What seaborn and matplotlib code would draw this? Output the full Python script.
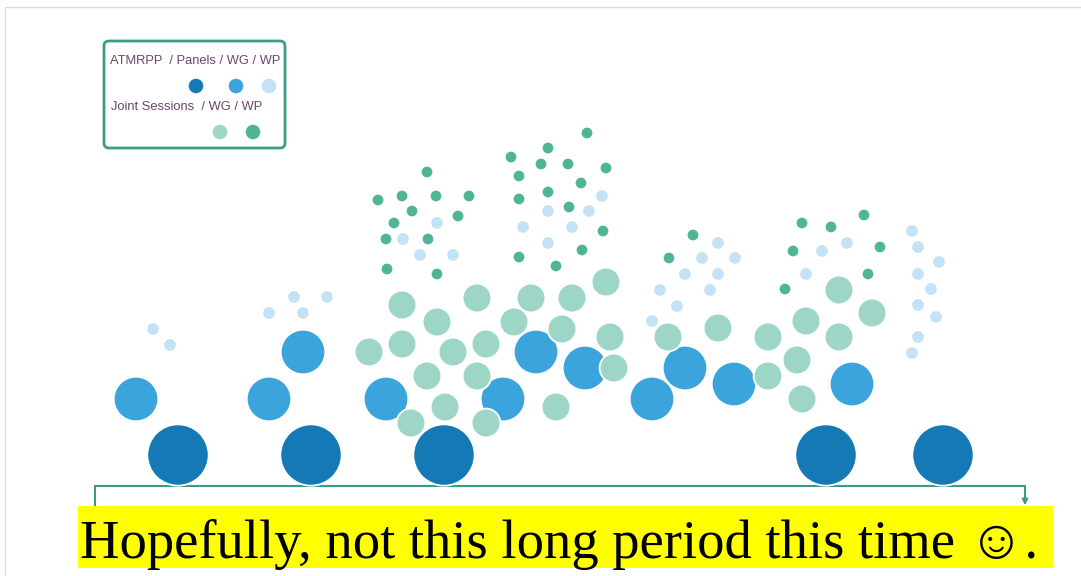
import numpy as np
import pandas as pd
import matplotlib
matplotlib.use('Agg')
import matplotlib.pyplot as plt
from matplotlib.patches import FancyBboxPatch, Rectangle
import seaborn as sns

# circle centres (pixel units, y downwards)
atm_x = [178, 311, 444, 826, 943]
atm_y = [455, 455, 455, 455, 455]

panel_x = [136, 269, 303, 386, 503, 536, 585, 652, 685, 734, 852]
panel_y = [399, 399, 352, 399, 399, 352, 368, 399, 368, 384, 384]

wp_x = [153, 170, 269, 294, 303, 327,
        437, 403, 420, 453,
        602, 548, 589, 523, 572, 548,
        718, 702, 735, 685, 718, 660, 710, 677, 652,
        822, 847, 806,
        912, 918, 939, 918, 931, 918, 936, 918, 912]
wp_y = [329, 345, 313, 297, 313, 297,
        223, 239, 255, 255,
        196, 211, 211, 227, 227, 243,
        243, 258, 258, 274, 274, 290, 290, 306, 321,
        251, 243, 274,
        231, 247, 262, 274, 289, 305, 317, 337, 353]

jwg_x = [402, 477, 437, 369, 402, 453, 486, 427, 477, 445, 411, 486,
         531, 572, 606, 514, 562, 610, 614, 556,
         668, 718, 768, 768, 806, 797, 802, 839, 839, 872]
jwg_y = [305, 298, 322, 352, 344, 352, 344, 376, 376, 407, 423, 423,
         298, 298, 282, 322, 329, 337, 368, 407,
         337, 328, 337, 376, 321, 360, 399, 290, 337, 313]

jwp_x = [427, 378, 402, 436, 469, 412, 458, 394, 386, 428, 387, 437,
         587, 548, 511, 541, 568, 606, 519, 581, 548, 519, 569, 603, 582, 519, 556,
         693, 669,
         864, 802, 831, 793, 880, 868, 785]
jwp_y = [172, 200, 196, 196, 196, 211, 216, 223, 239, 239, 269, 274,
         133, 148, 157, 164, 164, 168, 176, 183, 192, 199, 207, 231, 250, 257, 266,
         235, 258,
         215, 223, 227, 251, 247, 274, 289]

groups = ['ATMRPP', 'Panels', 'WP', 'Joint WG', 'Joint WP']
colors = {'ATMRPP': '#1579b6', 'Panels': '#3ca4dc', 'WP': '#c3e2f5',
          'Joint WG': '#9dd6c6', 'Joint WP': '#4fb596'}
sizes = {'ATMRPP': 1950, 'Panels': 1030, 'WP': 95, 'Joint WG': 430, 'Joint WP': 82}

df = pd.concat([
    pd.DataFrame({'x': atm_x, 'y': atm_y, 'group': 'ATMRPP'}),
    pd.DataFrame({'x': panel_x, 'y': panel_y, 'group': 'Panels'}),
    pd.DataFrame({'x': wp_x, 'y': wp_y, 'group': 'WP'}),
    pd.DataFrame({'x': jwg_x, 'y': jwg_y, 'group': 'Joint WG'}),
    pd.DataFrame({'x': jwp_x, 'y': jwp_y, 'group': 'Joint WP'}),
], ignore_index=True)

sns.set_style('white')
fig = plt.figure(figsize=(10.81, 5.76), dpi=100)
ax = fig.add_axes([0, 0, 1, 1])
ax.set_xlim(0, 1081)
ax.set_ylim(576, 0)
ax.axis('off')

# slide frame
ax.add_patch(Rectangle((5, 7), 1100, 600, fill=False, edgecolor='#dcdcdc', lw=1, zorder=0))

# timeline bracket
teal = '#3a9a88'
ax.plot([95, 95, 1025, 1025], [520, 486, 486, 500], color=teal, lw=1.5, zorder=1)
ax.annotate('', xy=(1025, 508), xytext=(1025, 498),
            arrowprops=dict(arrowstyle='-|>', color=teal, lw=1.2, mutation_scale=9), zorder=1)

sns.scatterplot(data=df, x='x', y='y', hue='group', palette=colors,
                size='group', sizes=sizes, hue_order=groups, size_order=groups,
                edgecolor='white', linewidth=1.3, legend=False, ax=ax, zorder=2)
ax.set_xlim(0, 1081)
ax.set_ylim(576, 0)

# legend box
ax.add_patch(FancyBboxPatch((104, 41), 181, 107, boxstyle='round,pad=0,rounding_size=5',
                            fill=False, edgecolor='#3a9e86', lw=2, zorder=3))
txt_col = '#6b456b'
ax.text(110, 61, 'ATMRPP  / Panels / WG / WP', color=txt_col, fontsize=9.3,
        family='Liberation Sans', va='center', ha='left')
ax.text(111, 107, 'Joint Sessions  / WG / WP', color=txt_col, fontsize=9.3,
        family='Liberation Sans', va='center', ha='left')
for lx, ly, g in [(196, 86, 'ATMRPP'), (236, 86, 'Panels'), (269, 86, 'WP'),
                  (220, 132, 'Joint WG'), (253, 132, 'Joint WP')]:
    ax.scatter(lx, ly, s=110, color=colors[g], edgecolor='none', zorder=4)

# caption
ax.add_patch(Rectangle((78, 506), 975, 62, facecolor='#ffff00', edgecolor='none', zorder=5))
ax.text(80, 558, 'Hopefully, not this long period this time \u263a.', fontsize=39.3,
        family=['Liberation Serif', 'DejaVu Sans'], color='black',
        ha='left', va='baseline', zorder=6)

fig.savefig('out.png', dpi=100)
